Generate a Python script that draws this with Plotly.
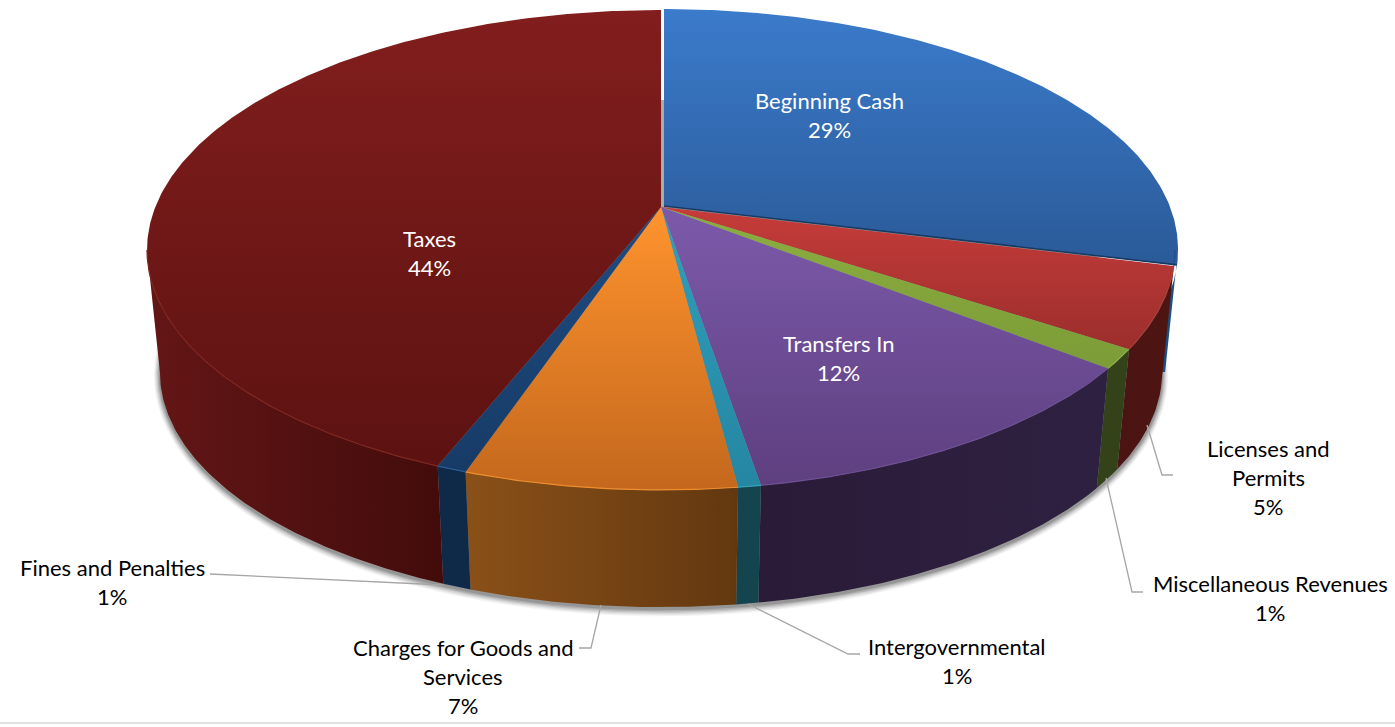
import numpy as np
import plotly.graph_objects as go

# ---- data ----
categories = ["Beginning Cash", "Licenses and<br>Permits", "Miscellaneous Revenues", "Transfers In",
              "Intergovernmental", "Charges for Goods and<br>Services", "Fines and Penalties", "Taxes"]
values = [28.9, 5.4, 1.3, 11.8, 0.6, 7.2, 0.8, 44.0]

# ---- styles ----
top_colors = [("#3B7BCB", "#2A5A98"), ("#C63C3A", "#9B2E2C"), ("#8CAE40", "#7B9C37"), ("#7C5AAB", "#5E3F7F"),
              ("#2F9FBD", "#2586A2"), ("#FF932E", "#C4681D"), ("#1E4C83", "#173B66"), ("#821E1D", "#5C1211")]
wall_colors = [("#1C4E80", "#1C4E80"), ("#4A1412", "#4E1512"), ("#34421A", "#34421A"), ("#2A1C38", "#2E2040"),
               ("#14454F", "#14454F"), ("#8A5018", "#633810"), ("#0F2A48", "#0F2A48"), ("#641616", "#420C0B")]
rim_colors = ["#234F86", "#A8403A", "#92B04A", "#6F4F95", "#35A5C0", "#F08E2E", "#2A5A90", "#7E2620"]
label_xy = [(829, 100.5), (1268, 448), (1270, 583), (838, 343.5), (957, 646), (463, 647), (112, 567), (429, 238.5)]
label_colors = ["white", "black", "black", "white", "black", "black", "black", "white"]
leaders = [
    ([1147, 1162, 1173], [425, 475, 475]),
    ([1106, 1132, 1143], [478, 592, 592]),
    ([748, 848, 860], [604, 654, 654]),
    ([601, 591, 579], [605, 648, 648]),
    ([210, 443], [574, 585]),
]
CX, K = 661, 0.179
TOP = dict(A=505.7, B=232.3, y0=207)
LOW = dict(A=493.0, B=227.5, y0=330)
SIL_R, SIL_L = 100.3, 259.7  # where the rim turns away from the viewer


def project(theta, ring, dx=0, dy=0, grow=0):
    u, v = np.sin(theta), np.cos(theta)
    d = 1 + K * v
    return CX + dx + (ring["A"] + grow) * u / d, ring["y0"] + dy - (ring["B"] + grow) * v / d


def arc(a, b):
    return np.radians(np.linspace(a, b, max(int(abs(b - a) * 2), 2) + 1))


fig = go.Figure()


def poly(xs, ys, c1, c2, kind):
    # the y axis runs downwards, so a vertical gradient's stops are swapped to keep c1 on top
    scale = [[0, c2], [1, c1]] if kind == "vertical" else [[0, c1], [1, c2]]
    fig.add_trace(go.Scatter(x=xs, y=ys, mode="lines", fill="toself", line=dict(width=0), hoverinfo="skip",
                             fillgradient=dict(type=kind, colorscale=scale)))


# soft shadow below the base
all_t = np.radians(np.linspace(0, 360, 361))
for g, op in [(6, 0.05), (5, 0.07), (4, 0.09), (3, 0.12), (2, 0.16), (1, 0.2)]:
    sx, sy = project(all_t, LOW, dy=2, grow=g)
    fig.add_trace(go.Scatter(x=sx, y=sy, mode="lines", fill="toself", line=dict(width=0),
                             fillcolor=f"rgba(60,60,60,{op})", hoverinfo="skip"))

edges = np.concatenate([[0], np.cumsum(values)]) * 3.6

# gap wall at the start of the pie
fig.add_trace(go.Scatter(x=[660.5, 664, 664, 660.5, 660.5], y=[100, 100, 207, 207, 100], mode="lines", fill="toself",
                         line=dict(width=0), fillcolor="#ABABAB", hoverinfo="skip"))

# sliver of the first slice's wall, peeking out behind the second slice
bx1, by1 = project(arc(SIL_R, edges[1] + 6), TOP, dx=3)
bx2, by2 = project(np.radians([SIL_R]), LOW, dx=3)
fig.add_trace(go.Scatter(x=np.r_[bx1, bx2[0] - 14, bx2[0], bx1[0]], y=np.r_[by1, by2[0], by2[0], by1[0]], mode="lines",
                         fill="toself", line=dict(width=0), fillcolor=wall_colors[0][0], hoverinfo="skip"))

# outer walls
for i, (a, b) in enumerate(zip(edges[:-1], edges[1:])):
    lo, hi = max(a, SIL_R), min(b, SIL_L)
    if i == 0 or hi <= lo:
        continue
    t = arc(lo, hi)
    x1, y1 = project(t, TOP)
    x2, y2 = project(t[::-1], LOW)
    poly(np.r_[x1, x2, x1[0]], np.r_[y1, y2, y1[0]], *wall_colors[i], "horizontal")

# top faces
for i, (a, b) in enumerate(zip(edges[:-1], edges[1:])):
    dx, dy = (3, -1) if i == 0 else (0, 0)
    t = arc(a, b)
    x1, y1 = project(t, TOP, dx=dx, dy=dy)
    poly(np.r_[CX + dx, x1, CX + dx], np.r_[TOP["y0"] + dy, y1, TOP["y0"] + dy], *top_colors[i], "vertical")
    lo, hi = max(a, SIL_R), min(b, SIL_L)
    if hi > lo:
        rx, ry = project(arc(lo, hi), TOP)
        fig.add_trace(go.Scatter(x=rx, y=ry, mode="lines", line=dict(width=1.2, color=rim_colors[i]), hoverinfo="skip"))

# dark edge under the first slice
ex, ey = project(np.radians([edges[1]]), TOP, dx=3, dy=-1)
fig.add_trace(go.Scatter(x=[CX + 3, ex[0]], y=[TOP["y0"] - 1, ey[0]], mode="lines",
                         line=dict(width=1.6, color="#173A63"), hoverinfo="skip"))

# leader lines
for lx, ly in leaders:
    fig.add_trace(go.Scatter(x=lx, y=ly, mode="lines", line=dict(width=1.3, color="#A6A6A6"), hoverinfo="skip"))

# labels
annotations = []
for name, val, (x, y), col in zip(categories, values, label_xy, label_colors):
    for j, line in enumerate(name.split("<br>") + [f"{round(val)}%"]):
        annotations.append(dict(x=x, y=y + 29.2 * j, text=line, showarrow=False, xanchor="center", yanchor="middle",
                                font=dict(family="Lato", size=22, color=col)))

fig.update_layout(
    width=1395, height=727, margin=dict(l=0, r=0, t=0, b=0), showlegend=False,
    paper_bgcolor="white", plot_bgcolor="white", annotations=annotations,
    xaxis=dict(range=[0, 1395], visible=False, fixedrange=True),
    yaxis=dict(range=[727, 0], visible=False, fixedrange=True),
    shapes=[dict(type="line", xref="x", yref="y", x0=0, x1=1395, y0=723, y1=723,
                 line=dict(color="#E2E2E2", width=2))],
)
fig.write_html("out.html", config={"displayModeBar": False},
               post_script="document.body.style.margin='0';document.body.style.overflow='hidden';")
